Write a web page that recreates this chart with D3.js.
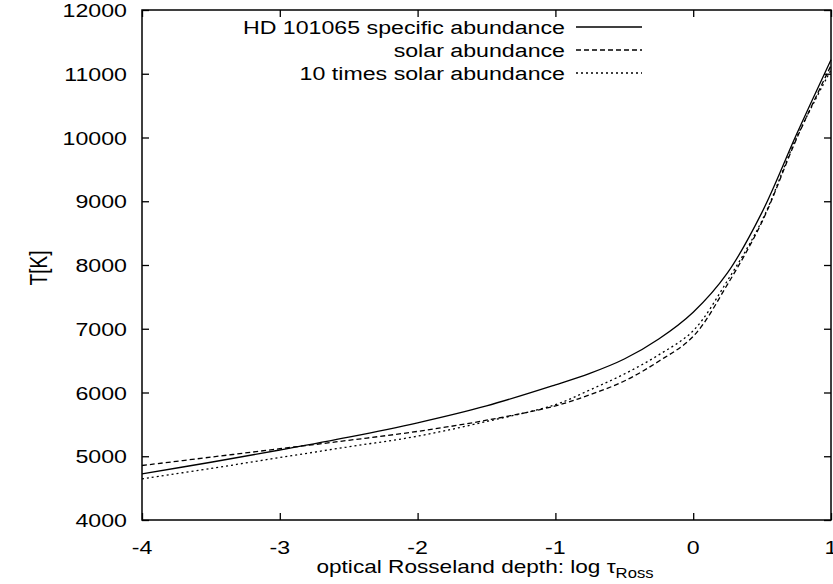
<!DOCTYPE html>
<html>
<head>
<meta charset="utf-8">
<script src="https://cdn.jsdelivr.net/npm/d3@7"></script>
<style>
  html, body { margin: 0; padding: 0; background: #fff; }
  svg { display: block; }
  text { font-family: "Liberation Sans", Arial, Helvetica, sans-serif; fill: #000; }
</style>
</head>
<body>
<svg id="chart" width="833" height="584"></svg>
<script>
// ---- data ----
const logTau = [-4, -3.5, -3, -2.5, -2, -1.5, -1, -0.75, -0.5, -0.25, 0, 0.25, 0.5, 0.75, 1];
const tempHD     = [4724, 4906, 5098, 5300, 5525, 5790, 6120, 6300, 6525, 6840, 7260, 7880, 8830, 10050, 11220];
const tempSolar  = [4855, 4986, 5118, 5250, 5390, 5565, 5790, 5965, 6180, 6490, 6880, 7700, 8680, 9980, 11130];
const tempTen    = [4646, 4808, 4980, 5148, 5315, 5545, 5810, 6040, 6290, 6590, 6970, 7760, 8700, 10000, 11060];
const seriesNames = ["HD 101065 specific abundance", "solar abundance", "10 times solar abundance"];
const xTicks = [-4, -3, -2, -1, 0, 1];
const yTicks = [4000, 5000, 6000, 7000, 8000, 9000, 10000, 11000, 12000];

// ---- layout ----
const L = 142, R = 831, T = 10, B = 520;
const FS = 19, SX = 1.22;
const svg = d3.select("#chart");
const x = d3.scaleLinear().domain([-4, 1]).range([L, R]);
const y = d3.scaleLinear().domain([4000, 12000]).range([B, T]);

function label(g, px, py, str, anchor) {
  return g.append("text")
    .attr("transform", `translate(${px},${py}) scale(${SX},1)`)
    .attr("text-anchor", anchor)
    .attr("font-size", FS)
    .text(str);
}

// ---- axes (ticks inward, mirrored) ----
const tickLen = 7;
const axB = svg.append("g").attr("transform", `translate(0,${B})`)
  .call(d3.axisTop(x).tickValues(xTicks).tickSize(tickLen).tickFormat(""));
const axT = svg.append("g").attr("transform", `translate(0,${T})`)
  .call(d3.axisBottom(x).tickValues(xTicks).tickSize(tickLen).tickFormat(""));
const axL = svg.append("g").attr("transform", `translate(${L},0)`)
  .call(d3.axisRight(y).tickValues(yTicks).tickSize(tickLen).tickFormat(""));
const axR = svg.append("g").attr("transform", `translate(${R},0)`)
  .call(d3.axisLeft(y).tickValues(yTicks).tickSize(tickLen).tickFormat(""));
[axB, axT, axL, axR].forEach(a => {
  a.select(".domain").remove();
  a.selectAll("line").attr("stroke", "#000").attr("stroke-width", 1.3);
});
svg.append("rect").attr("x", L).attr("y", T).attr("width", R - L).attr("height", B - T)
  .attr("fill", "none").attr("stroke", "#000").attr("stroke-width", 1.5);

// tick labels
const gl = svg.append("g");
xTicks.forEach(v => label(gl, x(v), 554, String(v), "middle"));
yTicks.forEach(v => label(gl, 127, y(v) + 7, String(v), "end"));

// axis titles
const xt = svg.append("text")
  .attr("transform", `translate(485,573) scale(1.19,1)`)
  .attr("text-anchor", "middle").attr("font-size", FS);
xt.append("tspan").text("optical Rosseland depth: log \u03c4");
xt.append("tspan").attr("font-size", 14).attr("dy", 5).text("Ross");

svg.append("text")
  .attr("transform", `translate(47,268) rotate(-90) scale(1,${SX})`)
  .attr("text-anchor", "middle").attr("font-size", FS).text("T[K]");

// ---- curves ----
const seriesData = [tempHD, tempSolar, tempTen];
const dashes = [null, "5,3", "2,3"];
const line = d3.line().x(d => x(d[0])).y(d => y(d[1])).curve(d3.curveCatmullRom.alpha(0.5));
seriesData.forEach((vals, i) => {
  svg.append("path")
    .datum(logTau.map((t, k) => [t, vals[k]]))
    .attr("d", line)
    .attr("fill", "none").attr("stroke", "#000").attr("stroke-width", 1.3)
    .attr("stroke-dasharray", dashes[i]);
});

// ---- legend ----
const legY = [27, 50, 73];
seriesNames.forEach((n, i) => {
  label(svg, 565, legY[i] + 7, n, "end");
  svg.append("line").attr("x1", 576).attr("x2", 642)
    .attr("y1", legY[i]).attr("y2", legY[i])
    .attr("stroke", "#000").attr("stroke-width", 1.3)
    .attr("stroke-dasharray", dashes[i]);
});
</script>
</body>
</html>
